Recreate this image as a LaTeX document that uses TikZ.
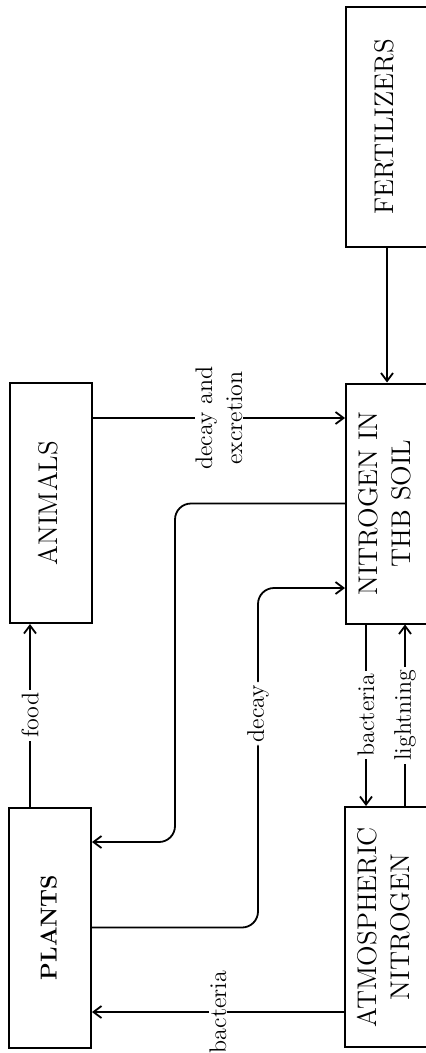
\documentclass[tikz,border=0pt]{standalone}
\usepackage{graphicx}
\usepackage{tikz}
\usetikzlibrary{arrows.meta}
\newcommand{\uptext}[1]{\rotatebox{90}{\begin{tabular}{@{}c@{}}#1\end{tabular}}}
\tikzset{
  box/.style={draw,line width=1pt,minimum width=41pt,minimum height=120pt,inner sep=0pt,font=\fontsize{13.5}{16.5}\selectfont},
  flow/.style={line width=0.9pt,-{Straight Barb[length=4pt,width=6pt]}},
  lbl/.style={rotate=90,fill=white,inner xsep=1.5pt,inner ysep=0.5pt,font=\fontsize{12}{15}\selectfont}
}

\begin{document}
\begin{tikzpicture}[x=0.5pt,y=-0.5pt]
  \path[use as bounding box,clip] (0,0) rectangle (426,1053);
  % the five boxes
  \node[box] (fert)    at (387,127)   {\uptext{FERTILIZERS}};
  \node[box] (soil)    at (387,503.5) {\uptext{NITROGEN IN\\THB SOIL}};
  \node[box] (animals) at (51,503)    {\uptext{ANIMALS}};
  \node[box] (plants)  at (50,927.5)  {\uptext{\fontsize{11.5}{14}\selectfont\bfseries PLANTS}};
  \node[box] (atm)     at (386,927)   {\uptext{ATMOSPHERIC\\NITROGEN}};
  % flows
  \draw[flow] (fert) -- (soil);
  \draw[flow] (animals.east |- 0,418) -- node[lbl,align=center] {decay and\\excretion} (soil.west |- 0,418);
  \draw[flow,rounded corners=8pt] (soil.west) -| (175,842) -- (plants.east |- 0,842);
  \draw[flow,rounded corners=8pt] (plants.east) -- (258,927.5) -- node[lbl,pos=0.63] {decay} (258,588) -- (soil.west |- 0,588);
  \draw[flow] (plants.north -| 30,0) -- node[lbl] {food} (animals.south -| 30,0);
  \draw[flow] (soil.south -| 366,0) -- node[lbl] {bacteria} (atm.north -| 366,0);
  \draw[flow] (atm.north -| 405,0) -- node[lbl] {lightning} (soil.south -| 405,0);
  \draw[flow] (atm.west |- 0,1012) -- node[lbl] {bacteria} (plants.east |- 0,1012);
\end{tikzpicture}
\end{document}
